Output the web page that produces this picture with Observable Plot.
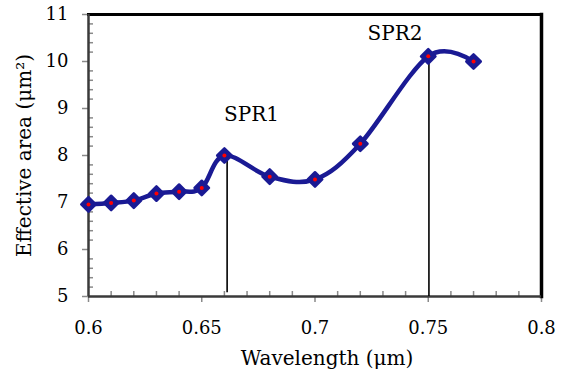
<!DOCTYPE html>
<html>
<head>
<meta charset="utf-8">
<script src="https://cdn.jsdelivr.net/npm/d3@7"></script>
<script src="https://cdn.jsdelivr.net/npm/@observablehq/plot@0.6"></script>
<style>
  body { margin: 0; background: #fff; }
</style>
</head>
<body>
<div id="chart"></div>
<script>
// Data
const wavelength = [0.60, 0.61, 0.62, 0.63, 0.64, 0.65, 0.66, 0.68, 0.70, 0.72, 0.75, 0.77];
const effArea    = [6.96, 6.99, 7.04, 7.19, 7.23, 7.31, 8.00, 7.55, 7.49, 8.25, 10.11, 10.00];

const peakLabels = ["SPR1", "SPR2"];
const peakX      = [0.6612, 0.7503];
const peakTop    = [8.0, 10.1];
const peakBottom = [5.08, 5.0];
const labelX     = [0.672, 0.7353];
const labelY     = [8.88, 10.6];

const xMajor = [0.6, 0.65, 0.7, 0.75, 0.8];
const xMajorLabels = ["0.6", "0.65", "0.7", "0.75", "0.8"];
const xMinor = [0.61, 0.62, 0.63, 0.64, 0.66, 0.67, 0.68, 0.69, 0.71, 0.72, 0.73, 0.74, 0.76, 0.77, 0.78, 0.79];
const yMajor = [5, 6, 7, 8, 9, 10, 11];
const yMinor = d3.range(5, 11, 0.2).filter(v => Math.abs(v - Math.round(v)) > 0.01);

const pts = wavelength.map((x, i) => ({x, y: effArea[i]}));
const peaks = peakLabels.map((t, i) => ({t, x: peakX[i], y1: peakTop[i], y2: peakBottom[i], lx: labelX[i], ly: labelY[i]}));

const navy = "#1a1a94";
const tickGray = "#8a8a8a";

const chart = Plot.plot({
  width: 573,
  height: 376,
  marginLeft: 88,
  marginRight: 32,
  marginTop: 14,
  marginBottom: 80,
  style: {fontFamily: "'DejaVu Serif', serif", fontSize: "18px", color: "#000", background: "#fff"},
  x: {domain: [0.6, 0.8]},
  y: {domain: [5, 11]},
  marks: [
    // minor ticks (inside)
    Plot.axisX(xMinor, {tickSize: -5, tickFormat: () => "", stroke: tickGray, strokeWidth: 1.5, label: null}),
    Plot.axisY(yMinor, {tickSize: -5, tickFormat: () => "", stroke: tickGray, strokeWidth: 1.5, label: null}),
    // major ticks (outside) with labels
    Plot.axisX(xMajor, {tickSize: 6, tickPadding: 19, tickFormat: (d, i) => xMajorLabels[i], stroke: tickGray, strokeWidth: 1.5, label: null, fill: "#000", fontSize: 18}),
    Plot.axisY(yMajor, {tickSize: 6, tickPadding: 14, tickFormat: d => String(d), stroke: tickGray, strokeWidth: 1.5, label: null, fill: "#000", fontSize: 18}),
    // frame: top & right black
    Plot.frame({anchor: "top", stroke: "#000", strokeWidth: 3}),
    Plot.frame({anchor: "right", stroke: "#000", strokeWidth: 3.5}),
    // axis lines
    Plot.ruleX([0.6], {stroke: "#3a3a3a", strokeWidth: 2.5}),
    Plot.ruleY([5], {stroke: "#3a3a3a", strokeWidth: 2.5}),
    // vertical peak lines
    Plot.ruleX(peaks, {x: "x", y1: "y1", y2: "y2", stroke: "#000", strokeWidth: 1.6}),
    // curve
    Plot.line(pts, {x: "x", y: "y", curve: "cardinal", stroke: navy, strokeWidth: 4.5}),
    Plot.dot(pts, {x: "x", y: "y", symbol: "diamond2", r: 6.5, fill: navy, stroke: navy, strokeWidth: 2.5, strokeLinejoin: "round"}),
    Plot.dot(pts, {x: "x", y: "y", r: 2, fill: "#ff0000", stroke: "none"}),
    // labels
    Plot.text(peaks, {x: "lx", y: "ly", text: "t", fill: "#000", fontSize: 20}),
    Plot.text(["Wavelength (μm)"], {frameAnchor: "bottom", textAnchor: "middle", lineAnchor: "bottom", dx: 12, dy: 68, fill: "#000", fontSize: 20}),
    Plot.text(["Effective area (μm²)"], {frameAnchor: "left", textAnchor: "middle", lineAnchor: "middle", dx: -64, rotate: -90, fill: "#000", fontSize: 20})
  ]
});
document.getElementById("chart").append(chart);
</script>
</body>
</html>
